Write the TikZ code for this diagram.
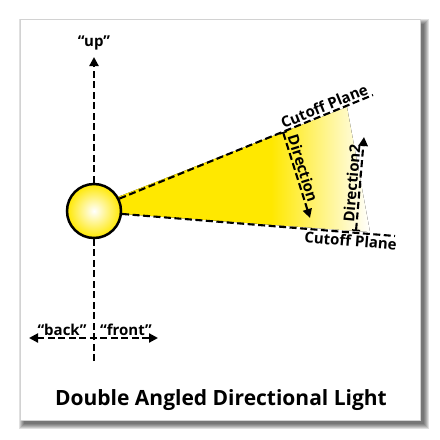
\documentclass[tikz,border=0pt]{standalone}
\usepackage{fontspec}
\setmainfont{Open Sans}
\usetikzlibrary{arrows.meta}
\definecolor{lampyellow}{RGB}{255,232,0}
\pgfdeclarehorizontalshading{conefade}{100bp}{color(0bp)=(lampyellow); color(56bp)=(lampyellow); color(75bp)=(white); color(100bp)=(white)}
\begin{document}
\begin{tikzpicture}[x=1pt,y=1pt,
  dashline/.style={line width=2.1pt, dash pattern=on 7pt off 3.5pt},
  tri/.tip={Triangle[length=9pt,width=9pt]},
  bartip/.tip={Bar[width=8pt,line width=1.5pt]},
  lbl/.style={font=\bfseries\fontsize{15}{18}\selectfont, inner sep=1.5pt},
]
\useasboundingbox (0,0) rectangle (440,-440);
% frame with shadow
\foreach \k in {0,...,5} \fill[black,opacity=0.12] (24-\k,-24+\k) rectangle (424+\k,-424-\k);
\path[draw=gray!35, line width=0.5pt, fill=white] (20,-19) rectangle (420,-420);
% light cone
\fill[shading=conefade] (110,-200) -- (347,-107) -- (370,-232) -- (110,-213) -- cycle;
% axes
\coordinate (upTip) at (94,-57);
\coordinate (axBot) at (94,-361);
\coordinate (bk) at (29,-338);
\coordinate (fr) at (158,-338);
\draw[dashline, -{tri}] (axBot) -- (upTip);
\draw[dashline, {tri}-{tri}] (bk) -- (fr);
\node[font=\bfseries\fontsize{15}{18}\selectfont] (uplbl) at (94,-43) {“up”};
\node[lbl, anchor=south] (back) at (62,-337) {“back”};
\node[lbl, anchor=south] (front) at (126,-337) {“front”};
% light
\node[circle, draw=black, line width=2.5pt, minimum size=54pt, inner sep=0pt,
  inner color=white, outer color=lampyellow] (light) at (94,-211) {};
% cutoff planes
\coordinate (u2) at (373,-95);
\coordinate (l2) at (395,-236);
\draw[dashline] (light.26) -- (u2) node[lbl, sloped, above, pos=0.82] (cutU) {Cutoff Plane};
\draw[dashline] (light.-6) -- (l2) node[lbl, sloped, below, pos=0.84] (cutL) {Cutoff Plane};
% directions
\coordinate (d1) at (283,-132);
\coordinate (d2) at (310,-218);
\draw[dashline, {bartip}-{tri}] (d1) -- (d2) node[lbl, sloped, above, pos=0.45] (dirlbl) {Direction};
\coordinate (e1) at (356,-231);
\coordinate (e2) at (364,-137);
\draw[dashline, {bartip}-{tri}] (e1) -- (e2) node[lbl, sloped, above, pos=0.5] (dir2lbl) {Direction2};
% title
\node[font=\bfseries\fontsize{21}{25}\selectfont] (title) at (221,-400) {Double Angled Directional Light};
\end{tikzpicture}
\end{document}
